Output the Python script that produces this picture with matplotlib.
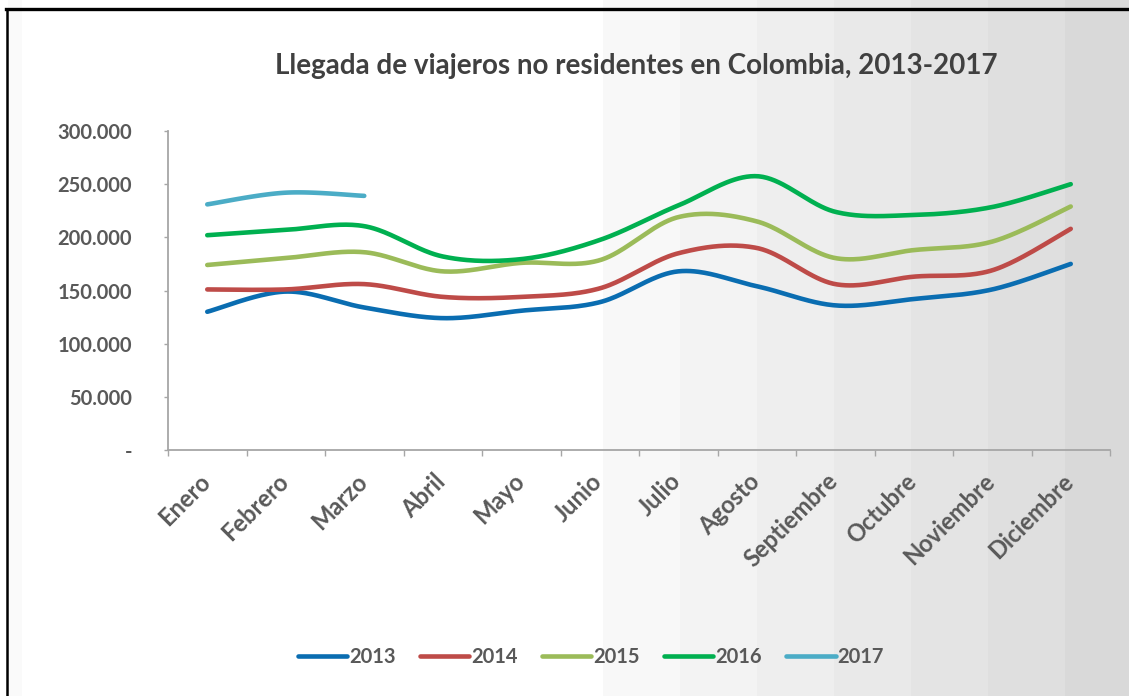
import numpy as np
import matplotlib
matplotlib.use("Agg")
import matplotlib.pyplot as plt
import matplotlib.transforms as mtrans
from matplotlib.patches import Rectangle
from matplotlib.lines import Line2D
from matplotlib.ticker import FuncFormatter, FixedLocator

meses = ["Enero", "Febrero", "Marzo", "Abril", "Mayo", "Junio", "Julio",
         "Agosto", "Septiembre", "Octubre", "Noviembre", "Diciembre"]

v2013 = [130000, 149000, 134000, 124000, 131000, 139000, 168000, 154000, 136000, 142000, 151000, 175000]
v2014 = [151000, 151000, 156000, 144000, 144000, 152000, 185000, 190000, 156000, 163000, 169000, 208000]
v2015 = [174000, 180500, 186000, 168000, 176000, 178500, 219000, 215000, 180500, 188000, 196000, 229000]
v2016 = [202000, 207000, 210500, 182000, 179500, 197500, 230000, 257500, 224000, 221000, 228500, 250000]
v2017 = [231000, 242000, 239000]

series = [("2013", v2013, "#0a6db1"),
          ("2014", v2014, "#be4b48"),
          ("2015", v2015, "#9bbb59"),
          ("2016", v2016, "#00b050"),
          ("2017", v2017, "#4bacc6")]


def smooth(y, n=40):
    # Excel-style smoothed line: cubic Bezier through the points
    x = np.arange(len(y), dtype=float)
    p = np.column_stack([x, np.asarray(y, dtype=float)])
    ext = np.vstack([p[0], p, p[-1]])
    t = np.linspace(0, 1, n)[:, None]
    out = []
    for i in range(len(p) - 1):
        p0 = ext[i + 1]
        p3 = ext[i + 2]
        c1 = p0 + (ext[i + 2] - ext[i]) / 6.0
        c2 = p3 - (ext[i + 3] - ext[i + 1]) / 6.0
        seg = ((1 - t) ** 3) * p0 + 3 * ((1 - t) ** 2) * t * c1 + 3 * (1 - t) * t ** 2 * c2 + t ** 3 * p3
        out.append(seg if i == 0 else seg[1:])
    out = np.vstack(out)
    return out[:, 0], out[:, 1]


W, H = 1129, 696
fig = plt.figure(figsize=(W / 100, H / 100), dpi=100, facecolor="white")

# stepped grey background on the right side
band_edges = [603, 680, 757, 834, 911, 988, 1065, W]
band_cols = ["#f8f8f8", "#f3f3f3", "#eeeeee", "#e9e9e9", "#e4e4e4", "#dfdfdf", "#d9d9d9"]
for x0, x1, c in zip(band_edges[:-1], band_edges[1:], band_cols):
    fig.patches.append(Rectangle((x0 / W, 0), (x1 - x0) / W, 1, transform=fig.transFigure,
                                 facecolor=c, edgecolor="none", zorder=-10))
fig.patches.append(Rectangle((8 / W, 0), 14 / W, 1, transform=fig.transFigure,
                             facecolor="#fafafa", edgecolor="none", zorder=-10))
# black frame (top and left)
fig.lines.append(Line2D([6 / W, 1], [1 - 9 / H, 1 - 9 / H], transform=fig.transFigure,
                        color="black", lw=2.4, zorder=5))
fig.lines.append(Line2D([7 / W, 7 / W], [0, 1 - 9 / H], transform=fig.transFigure,
                        color="black", lw=1.8, zorder=5))

ax = fig.add_axes([168 / W, 1 - 450 / H, (1110 - 168) / W, (450 - 131) / H])
ax.set_facecolor("none")

for label, vals, col in series:
    xs, ys = smooth(vals)
    ax.plot(xs, ys, color=col, lw=3.3, solid_capstyle="round", label=label)

ax.set_xlim(-0.5, 11.5)
ax.set_ylim(0, 300000)

for s in ["top", "right"]:
    ax.spines[s].set_visible(False)
for s in ["left", "bottom"]:
    ax.spines[s].set_color("#a6a6a6")
    ax.spines[s].set_linewidth(1.3)

txt = "#595959"
font = "Lato"

ax.yaxis.set_major_locator(FixedLocator(np.arange(0, 300001, 50000)))
ax.yaxis.set_major_formatter(FuncFormatter(
    lambda v, p: "-" if v == 0 else f"{int(v):,}".replace(",", ".")))
ax.tick_params(axis="y", length=3, width=1, color="#a6a6a6", pad=23,
               labelsize=14.5, labelcolor=txt)

ax.set_xticks(np.arange(12))
ax.set_xticklabels(meses)
ax.set_xticks(np.arange(-0.5, 12, 1), minor=True)
ax.tick_params(axis="x", which="major", length=0, pad=14, labelsize=17, labelcolor=txt)
ax.tick_params(axis="x", which="minor", length=4, width=1, color="#a6a6a6")
shift = mtrans.ScaledTranslation(7 / 100, 0, fig.dpi_scale_trans)
for lab in ax.get_xticklabels():
    lab.set_rotation(45)
    lab.set_ha("right")
    lab.set_va("top")
    lab.set_transform(lab.get_transform() + shift)
for lab in ax.get_xticklabels() + ax.get_yticklabels():
    lab.set_fontfamily(font)
    lab.set_fontweight("bold")

fig.text(636 / W, 1 - 66 / H, "Llegada de viajeros no residentes en Colombia, 2013-2017",
         ha="center", va="center", fontsize=20, color="#404040", family=font, fontweight="bold")

leg = fig.legend(loc="center", bbox_to_anchor=(591 / W, 1 - 657 / H), ncol=5, frameon=False,
                 handlelength=2.45, handletextpad=0.1, columnspacing=1.2,
                 prop={"family": font, "weight": "bold", "size": 14.5})
for t in leg.get_texts():
    t.set_color(txt)

fig.savefig("out.png", dpi=100, facecolor=fig.get_facecolor())
